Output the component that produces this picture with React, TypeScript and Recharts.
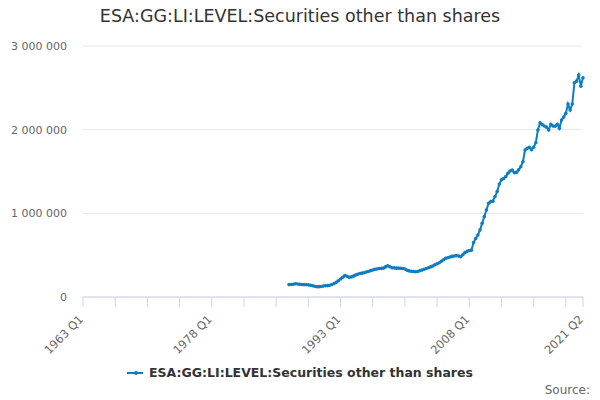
import React from "react";
import { LineChart, Line, XAxis, YAxis, CartesianGrid, Legend } from "recharts";

// quarters from 1963 Q1 to 2021 Q2 (index 0..233)
const startYear = 1963;
const quarterLabels: string[] = [];
for (let i = 0; i <= 233; i++) {
  quarterLabels.push(`${startYear + Math.floor(i / 4)} Q${(i % 4) + 1}`);
}

// series begins 1987 Q1 (index 96)
const firstIndex = 96;
const seriesValues = [
  148000, 150000, 152000, 158000, 156000, 152000, 150000, 148000, 147000, 145000,
  140000, 135000, 128000, 123000, 124000, 126000, 132000, 135000, 136000, 140000,
  150000, 160000, 175000, 195000, 215000, 235000, 255000, 248000, 235000, 240000,
  250000, 262000, 272000, 280000, 285000, 290000, 298000, 305000, 315000, 322000,
  330000, 335000, 340000, 342000, 345000, 360000, 374000, 362000, 350000, 348000,
  345000, 345000, 343000, 340000, 335000, 320000, 312000, 308000, 305000, 302000,
  305000, 315000, 322000, 331000, 340000, 350000, 360000, 370000, 385000, 398000,
  410000, 428000, 445000, 462000, 470000, 478000, 485000, 490000, 494000, 490000,
  482000, 505000, 530000, 545000, 555000, 560000, 650000, 700000, 741000, 800000,
  880000, 960000, 1040000, 1120000, 1140000, 1145000, 1200000, 1260000, 1350000, 1400000,
  1415000, 1440000, 1478000, 1505000, 1518000, 1486000, 1490000, 1520000, 1557000, 1617000,
  1757000, 1777000, 1789000, 1760000, 1790000, 1844000, 1996000, 2083000, 2060000, 2044000,
  2030000, 1996000, 2064000, 2044000, 2040000, 2064000, 2016000, 2115000, 2150000, 2195000,
  2307000, 2235000, 2307000, 2561000, 2580000, 2653000, 2520000, 2620000,
];

const xTicks = [0, 15, 30, 45, 60, 75, 90, 105, 120, 135, 150, 165, 180, 195, 210, 225, 233];
const xLabelled = [0, 60, 120, 180, 233];
const yTicks = [0, 1000000, 2000000, 3000000];

const seriesName = "ESA:GG:LI:LEVEL:Securities other than shares";
const color = "#0f7dc2";
const font = "'DejaVu Sans', Verdana, sans-serif";

const data = seriesValues.map((v, k) => ({ idx: firstIndex + k, value: v }));

const fmt = (v: number) => String(v).replace(/\B(?=(\d{3})+(?!\d))/g, " ");

function QuarterTick(props: any) {
  const { x, y, payload } = props;
  if (!xLabelled.includes(payload.value)) return null;
  return (
    <g transform={`translate(${x + 1},${y + 11}) rotate(-45)`}>
      <text x={0} y={0} textAnchor="end" fill="#666666" fontSize={11.5} fontFamily={font}>
        {quarterLabels[payload.value]}
      </text>
    </g>
  );
}

function LegendBox() {
  return (
    <div style={{ display: "flex", justifyContent: "center", alignItems: "center", fontFamily: font }}>
      <svg width={18} height={10} style={{ marginRight: 4 }}>
        <line x1={0} y1={5} x2={16} y2={5} stroke={color} strokeWidth={2} />
        <circle cx={9} cy={5} r={2} fill={color} />
      </svg>
      <span style={{ fontSize: 12.5, fontWeight: "bold", color: "#333333" }}>{seriesName}</span>
    </div>
  );
}

export default function App() {
  return (
    <div style={{ position: "absolute", left: 0, top: 0, width: 600, height: 400, background: "#fff" }}>
      <div
        style={{
          position: "absolute",
          top: 6,
          width: 600,
          textAlign: "center",
          fontFamily: font,
          fontSize: 17.5,
          color: "#333333",
        }}
      >
        {seriesName}
      </div>
      <LineChart width={600} height={400} data={data} margin={{ top: 46, right: 17, bottom: 0, left: 0 }}>
        <CartesianGrid vertical={false} stroke="#e6e6e6" />
        <XAxis
          dataKey="idx"
          type="number"
          domain={[0, 233]}
          ticks={xTicks}
          interval={0}
          tick={<QuarterTick />}
          tickSize={10}
          tickLine={{ stroke: "#ccd6eb" }}
          axisLine={{ stroke: "#ccd6eb" }}
          height={68}
        />
        <YAxis
          type="number"
          domain={[0, 3000000]}
          ticks={yTicks}
          tickFormatter={fmt}
          axisLine={false}
          tickLine={false}
          tickSize={0}
          tickMargin={16}
          width={83}
          tick={{ fill: "#666666", fontSize: 11, fontFamily: font }}
        />
        <Legend
          verticalAlign="bottom"
          height={35}
          wrapperStyle={{ left: 0, width: 600 }}
          content={<LegendBox />}
        />
        <Line
          type="linear"
          dataKey="value"
          name={seriesName}
          stroke={color}
          strokeWidth={2}
          dot={{ r: 1.8, fill: color, stroke: color, strokeWidth: 0 }}
          isAnimationActive={false}
        />
      </LineChart>
      <div
        style={{
          position: "absolute",
          right: 10,
          top: 383,
          fontFamily: font,
          fontSize: 12,
          color: "#666666",
        }}
      >
        Source:
      </div>
    </div>
  );
}
